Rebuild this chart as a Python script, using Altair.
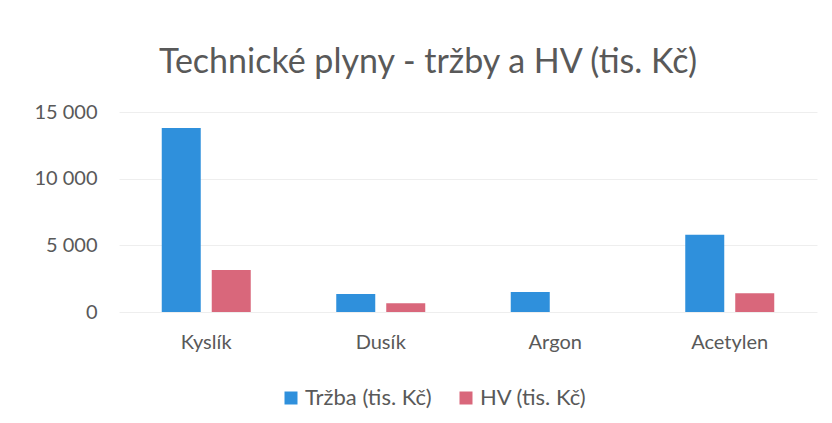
import altair as alt
import pandas as pd

categories = ["Kyslík", "Dusík", "Argon", "Acetylen"]
series = ["Tržba (tis. Kč)", "HV (tis. Kč)"]
trzba = [13800, 1350, 1500, 5800]
hv = [3150, 650, None, 1400]
colors = ["#2F90DC", "#D9677B"]

rows = []
for c, t, h in zip(categories, trzba, hv):
    rows.append({"Plyn": c, "Série": series[0], "Hodnota": t})
    if h is not None:
        rows.append({"Plyn": c, "Série": series[1], "Hodnota": h})
df = pd.DataFrame(rows)

FONT = "Lato"
GRAY = "#595959"

chart = alt.Chart(df).mark_bar().encode(
    x=alt.X("Plyn:N", sort=categories,
            scale=alt.Scale(paddingInner=0.49, paddingOuter=0.245),
            axis=alt.Axis(title=None, labelAngle=0, ticks=False, domain=False,
                          labelFontSize=20, labelPadding=20, labelColor=GRAY,
                          labelFont=FONT)),
    xOffset=alt.XOffset("Série:N", sort=series,
                        scale=alt.Scale(paddingInner=0.22, paddingOuter=0)),
    y=alt.Y("Hodnota:Q",
            scale=alt.Scale(domain=[0, 15000], nice=False),
            axis=alt.Axis(title=None, values=[0, 5000, 10000, 15000], ticks=False,
                          domain=False, gridColor="#EEEEEE", labelFontSize=20,
                          labelPadding=22, labelColor=GRAY, labelFont=FONT,
                          labelExpr="datum.value == 0 ? '0' : format(datum.value / 1000, 'd') + ' 000'")),
    color=alt.Color("Série:N", sort=series,
                    scale=alt.Scale(domain=series, range=colors),
                    legend=alt.Legend(title=None, orient="none", direction="horizontal",
                                      legendX=161, legendY=275, symbolType="square",
                                      symbolSize=169, symbolStrokeWidth=0,
                                      labelFontSize=22, labelFont=FONT, labelColor=GRAY,
                                      labelOffset=3, columnPadding=23)),
).properties(
    width=698,
    height=200,
    padding={"left": 111, "top": 104, "right": 7, "bottom": 103},
    autosize=alt.AutoSizeParams(type="none"),
    background="white",
    title=alt.Title("Technické plyny - tržby a HV (tis. Kč)", fontSize=34, font=FONT,
                    fontWeight="normal", color=GRAY, dx=-40, offset=22,
                    anchor="middle"),
).configure_view(stroke=None)

chart.save("out.html", embed_options={"renderer": "svg", "actions": False})
